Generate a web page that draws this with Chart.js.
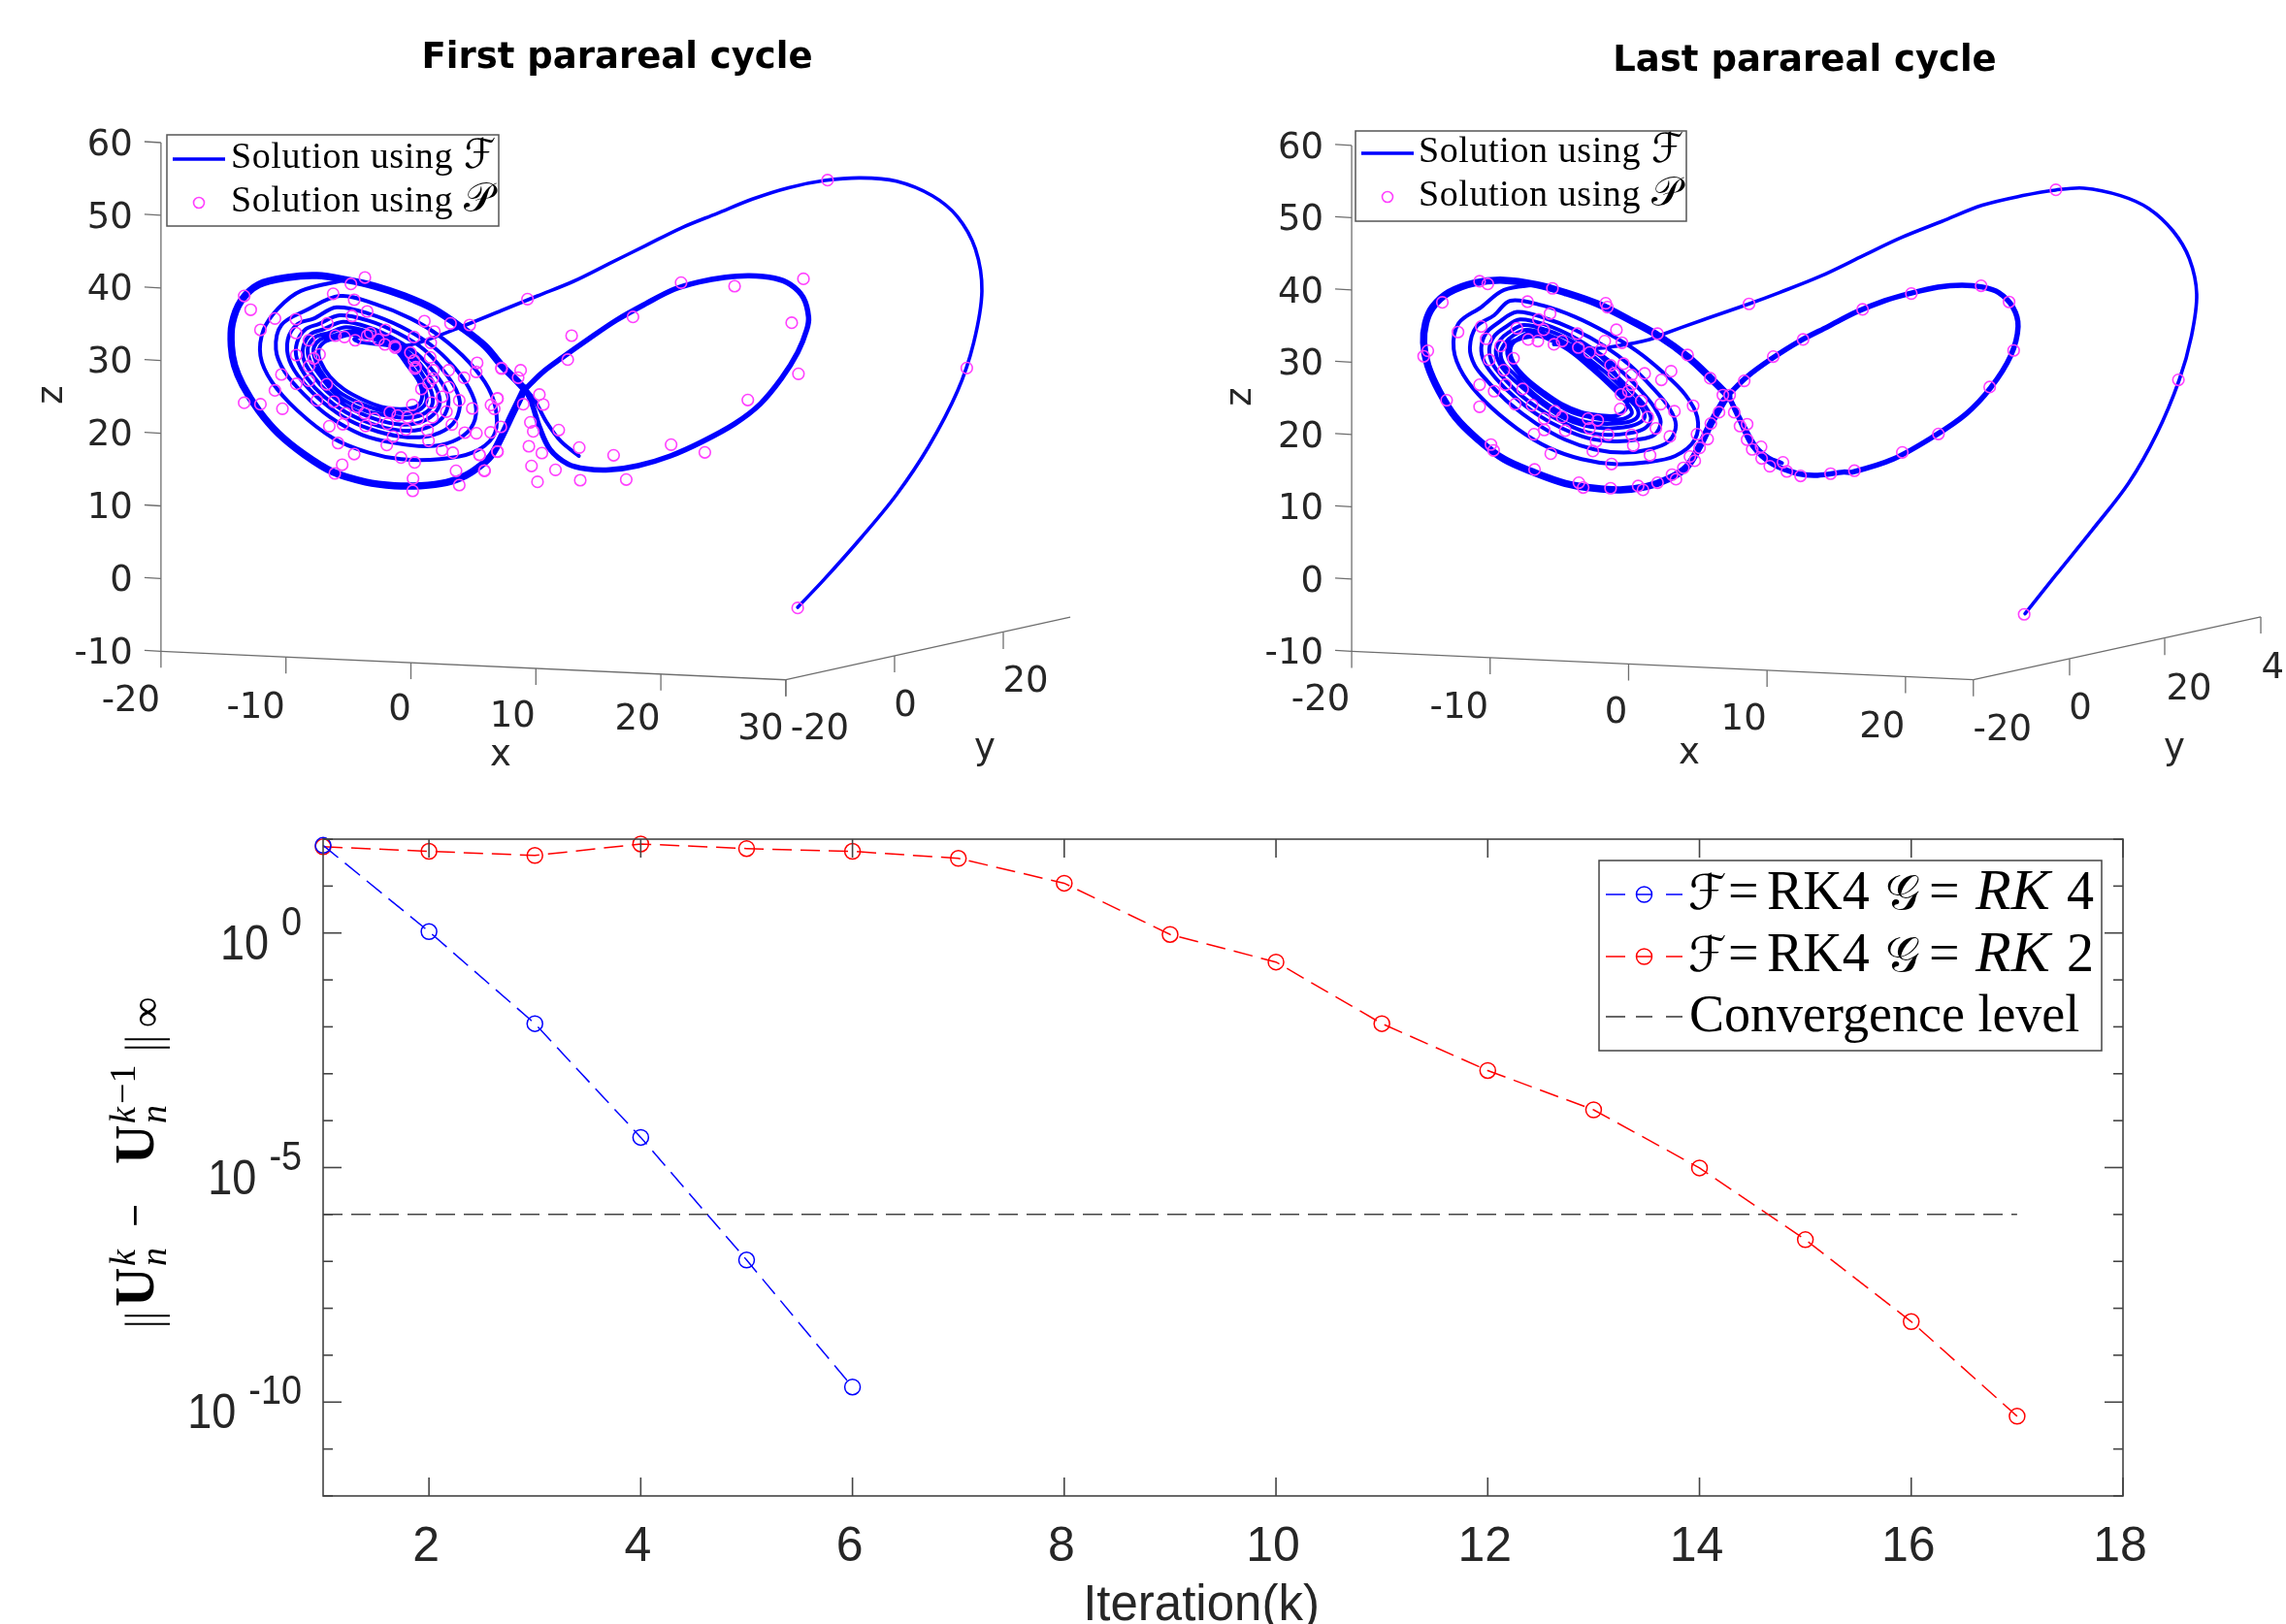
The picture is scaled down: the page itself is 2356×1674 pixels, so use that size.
<!DOCTYPE html>
<html><head><meta charset="utf-8">
<style>html,body{margin:0;padding:0;background:#fff;width:2356px;height:1674px;overflow:hidden}
canvas{position:absolute;display:block}</style>
<script src="https://cdn.jsdelivr.net/npm/chart.js@4"></script>
</head><body>
<canvas id="first" style="left:0;top:0" width="1178" height="830"></canvas>
<canvas id="last" style="left:1178px;top:0" width="1178" height="830"></canvas>
<canvas id="conv" style="left:0;top:800px" width="2356" height="874"></canvas>
<script>
// ---------- tick labels / categories ----------
const zTicks=[-10,0,10,20,30,40,50,60];
const firstXTicks=[-20,-10,0,10,20,30];
const lastXTicks=[-20,-10,0,10,20];
const firstYTickLabels=['-20','0','20'];
const lastYTickLabels=['-20','0','20','40'];
// ---------- First cycle: projected horizontal coordinate, z ----------
const firstArc=[[30.95,-3.95],[33.11,-0.03],[35.98,5.53],[38.85,11.54],[41.44,18.21],[43.73,25.78],[45.03,32.45],[45.69,39.57],[45.17,45.36],[43.73,49.81],[41.72,52.7],[38.85,54.7],[35.98,55.15],[33.11,54.79],[30.24,53.81],[27.37,52.26],[24.49,50.25],[21.62,48.25],[18.75,45.8],[15.88,43.36],[13.01,40.91],[10.13,38.91],[7.26,36.9],[4.39,34.9],[0.77,32.54],[-0.79,32.0],[-2.6,32.23],[-4.15,32.54]];
const firstSpiral=[[-4.15,32.54],[-4.54,32.98],[-4.15,33.25],[-2.86,32.9],[-1.3,31.56],[-0.27,29.33],[0.64,27.11],[0.9,25.11],[0.51,23.77],[-0.79,23.33],[-2.34,23.64],[-3.89,24.66],[-5.32,26.0],[-6.48,27.78],[-7.21,29.78],[-7.39,31.34],[-7.0,32.45],[-5.96,33.12],
[-4.67,33.56],[-2.99,32.98],[-1.3,31.56],[-0.14,29.56],[0.77,27.33],[1.23,25.33],[1.15,24.0],[0.38,23.0],[-0.79,22.75],[-2.34,23.1],[-3.89,24.0],[-5.44,25.33],[-6.48,26.89],[-7.26,28.67],[-7.72,30.45],[-7.77,31.78],[-7.26,32.9],[-6.35,33.34],
[-4.93,34.0],[-3.12,33.43],[-1.3,32.0],[0.12,30.0],[1.02,27.78],[1.67,25.55],[1.67,23.77],[0.9,22.57],[-0.4,22.13],[-1.95,22.44],[-3.63,23.1],[-5.32,24.53],[-6.48,26.22],[-7.39,28.22],[-8.08,30.0],[-8.24,31.78],[-7.65,33.25],[-6.61,33.78],
[-5.19,34.59],[-3.25,33.87],[-1.3,32.45],[0.25,30.45],[1.41,28.0],[2.19,25.55],[2.27,23.77],[1.54,22.21],[0.25,21.3],[-1.3,21.3],[-3.25,22.21],[-5.19,23.77],[-6.74,25.78],[-7.77,27.78],[-8.55,30.0],[-8.6,32.0],[-7.98,33.7],[-7.0,34.32],
[-5.45,35.34],[-3.37,34.59],[-1.3,32.98],[0.51,30.89],[1.93,28.22],[2.84,25.78],[2.97,23.77],[2.32,21.77],[0.77,20.52],[-1.05,20.43],[-3.12,21.3],[-5.19,22.88],[-7.0,25.11],[-8.29,27.55],[-9.12,30.22],[-9.12,32.45],[-8.42,34.32],[-7.39,35.03],
[-5.7,36.23],[-3.37,35.48],[-1.05,33.79],[1.02,31.56],[2.58,28.67],[3.61,26.0],[3.92,23.77],[3.35,21.3],[1.8,19.77],[-0.27,19.46],[-2.6,20.21],[-4.93,21.77],[-7.0,24.22],[-8.68,27.11],[-9.72,30.0],[-9.85,32.9],[-9.07,35.03],[-7.77,35.79],
[-5.96,37.34],[-3.37,36.46],[-0.79,34.67],[1.54,32.23],[3.35,29.33],[4.65,26.22],[5.22,23.33],[4.78,20.66],[3.35,18.88],[1.28,18.21],[-1.3,18.66],[-3.89,19.77],[-6.48,22.22],[-8.55,25.33],[-10.1,28.45],[-10.8,31.56],[-10.36,34.9],[-8.42,36.9],
[-5.7,38.9],[-2.86,37.79],[-0.01,35.79],[2.32,33.34],[4.65,29.78],[6.2,26.22],[6.85,22.66],[6.59,19.55],[4.91,17.32],[2.32,16.43],[-0.79,16.43],[-3.37,17.32],[-6.22,19.32],[-9.07,23.1],[-11.14,27.11],[-12.04,30.67],[-11.79,34.23],[-10.62,37.2],[-8.8,39.6],[-5.19,41.13]];
const firstOuter=[[9.13,26.22],[8.12,22.66],[7.26,19.55],[6.4,16.88],[5.4,15.32],[4.39,14.2],[2.84,13.23],[0.77,12.78],[-1.3,12.78],[-3.63,13.3],[-6.22,14.65],[-8.55,17.1],[-10.62,20.0],[-12.17,23.1],[-13.47,26.67],[-14.11,29.33],[-14.37,32.0],[-14.3,35.1],[-13.6,38.2],[-12.17,40.46],[-9.85,41.44],[-7.52,41.7],[-5.19,41.13],[-2.86,40.24],[-0.53,38.9],[1.8,37.12],[4.13,34.45],[5.94,32.0],[7.26,29.34],[8.41,27.33],[9.13,26.0]];
const firstLobe=[[9.13,26.22],[9.7,24.0],[10.28,20.88],[11.14,17.77],[12.57,15.76],[14.01,15.1],[15.88,14.96],[18.18,15.54],[20.76,16.88],[23.35,18.88],[25.93,21.33],[27.94,24.0],[29.66,27.56],[30.95,31.12],[31.67,34.23],[31.82,36.01],[31.39,38.68],[30.38,40.46],[29.09,41.35],[27.08,41.67],[25.07,41.44],[23.06,40.82],[21.05,39.8],[18.75,37.79],[16.45,35.57],[14.15,32.9],[12.14,30.45],[10.42,28.22],[9.13,26.0]];
const firstTail=[[7.26,29.1],[8.7,26.9],[9.85,24.67],[10.85,21.55],[12.0,18.88],[13.44,16.88]];
const firstPararealX=[-13.34,-12.82,-12.04,-10.88,-9.2,-9.2,-8.16,-6.22,-4.8,-3.68,-4.54,-3.5,-4.72,-6.69,-6.04,-5.32,-4.46,-3.5,-3.25,-2.6,-2.03,-2.08,-1.3,-1.25,0.25,1.08,1.88,3.17,4.7,1.59,-0.04,0.25,0.38,0.33,1.54,1.8,1.75,3.02,5.3,5.22,4.26,7.24,-9.17,-7.31,-7.77,-8.16,-10.36,-9.17,-10.88,-8.16,-6.74,-13.34,-12.04,-10.28,-7.52,-6.17,-5.24,-4.28,-3.71,-2.91,-1.69,-1.05,-0.27,0.12,0.84,1.41,1.67,2.5,3.02,3.87,4.91,2.84,1.72,0.58,-1.87,-3.63,-5.45,-6.53,-0.4,1.33,3.28,6.93,6.41,6.67,4.31,5.24,6.38,-5.83,-1.43,-1.93,1.41,2.5,3.35,5.5,6.93,-4.54,-0.79,0.3,-5.5,-6.09,0.17,0.14,3.87,3.61,5.89,33.34,44.48,30.95,9.33,21.62,25.9,31.41,17.77,30.47,12.86,12.55,31.01,26.96,7.26,8.78,8.58,10.28,10.59,8.99,6.92,9.56,9.79,11.83,9.44,10.48,13.47,16.22,20.82,23.52,9.65,11.57,13.55,10.13,17.23,6.92,5.48,5.88,7.2];
const firstPararealZ=[38.9,37.0,34.23,35.79,35.7,33.8,32.8,39.2,40.55,41.44,38.37,36.77,36.14,35.12,33.43,33.25,32.8,33.43,33.8,32.9,34.23,32.23,32.0,31.78,33.25,35.43,34.0,35.12,34.9,32.45,31.1,30.0,29.1,28.9,30.45,28.67,27.55,28.67,29.69,28.45,27.64,28.98,30.76,30.85,30.3,29.2,28.09,26.8,25.9,27.24,26.75,24.2,24.0,23.37,24.53,24.35,22.75,23.64,22.75,22.0,22.88,22.44,22.2,23.9,26.09,26.89,24.22,25.02,26.35,24.53,23.42,22.97,22.2,22.0,21.3,21.0,21.24,20.97,20.52,20.43,21.2,24.8,23.9,23.37,20.08,20.0,20.12,18.65,19.55,18.39,18.97,17.68,17.32,17.01,17.45,17.14,16.65,15.99,15.67,14.47,13.76,12.07,12.87,14.83,14.83,54.84,28.98,-4.04,38.46,40.73,40.24,41.26,36.01,35.21,33.43,30.14,28.18,24.58,28.89,28.67,27.65,25.33,23.95,24.0,24.75,21.5,20.26,20.44,18.21,17.28,18.03,16.97,18.43,17.37,15.5,14.96,13.54,13.32,13.63,17.5,17.05,14.87,20.88];
// ---------- Last cycle ----------
const lastArc=[[28.63,-4.78],[30.83,0.5],[33.47,6.76],[36.1,13.25],[38.16,20.18],[39.77,27.57],[40.65,33.61],[41.03,39.42],[40.5,44.34],[39.33,48.15],[37.57,51.28],[35.52,53.07],[32.88,54.1],[30.83,53.83],[28.48,53.07],[25.55,51.73],[22.62,49.49],[19.69,47.25],[16.75,44.57],[13.82,41.88],[10.89,39.65],[8.69,38.08],[5.32,35.84],[2.39,33.83],[1.51,33.16],[-0.83,32.26],[-2.47,31.91],[-4.1,32.35],[-5.39,32.49]];
const lastSpiral=[[-5.39,32.49],[-5.04,32.94],[-3.87,32.17],[-2.23,31.15],[-1.06,28.69],[-0.25,26.0],[-0.13,23.76],[-0.83,22.65],[-2.0,22.65],[-3.4,23.09],[-4.8,24.21],[-6.2,26.0],[-7.37,27.79],[-8.19,29.58],[-8.54,31.37],[-8.31,32.71],[-7.6,33.38],[-6.44,33.61],
[-5.5,32.94],[-4.1,31.37],[-2.7,29.13],[-1.53,27.12],[-0.48,25.11],[0.1,23.76],[0.22,22.87],[-0.36,22.2],[-1.53,22.06],[-2.82,22.42],[-4.1,23.09],[-5.39,24.44],[-6.55,26.0],[-7.49,27.57],[-8.19,29.13],[-8.66,30.47],[-8.77,31.82],[-8.54,32.71],[-8.07,33.16],
[-7.14,34.05],[-5.74,33.38],[-4.22,31.91],[-2.7,29.58],[-1.41,27.34],[-0.13,25.11],[0.57,23.76],[0.69,22.65],[0.22,21.88],[-0.83,21.53],[-2.23,21.53],[-3.52,21.97],[-4.92,23.09],[-6.2,24.66],[-7.37,26.54],[-8.31,28.46],[-9.01,29.8],[-9.24,31.37],[-8.89,32.71],[-8.31,33.74],
[-7.37,34.5],[-5.85,33.83],[-4.22,32.35],[-2.58,30.03],[-1.18,27.79],[0.1,25.33],[0.92,23.76],[1.16,22.42],[0.69,21.53],[-0.36,20.99],[-1.76,20.86],[-3.28,21.3],[-4.8,22.42],[-6.2,24.21],[-7.49,26.22],[-8.66,28.24],[-9.31,29.8],[-9.59,31.59],[-9.24,33.16],[-8.66,34.14],
[-7.6,35.17],[-5.97,34.5],[-4.1,32.94],[-2.47,30.7],[-0.95,28.24],[0.45,25.55],[1.27,23.76],[1.62,22.2],[1.16,20.86],[-0.01,20.18],[-1.53,19.96],[-3.17,20.41],[-4.8,21.75],[-6.44,23.54],[-7.84,25.55],[-9.12,28.01],[-9.82,29.8],[-10.06,31.82],[-9.71,33.61],[-9.01,34.72],
[-7.84,35.93],[-5.97,35.17],[-4.1,33.61],[-2.23,31.37],[-0.6,28.91],[0.92,26.0],[1.86,23.76],[2.32,21.75],[1.86,19.96],[0.57,19.29],[-1.06,19.07],[-2.93,19.51],[-4.8,20.86],[-6.67,22.87],[-8.31,25.33],[-9.59,27.79],[-10.41,30.03],[-10.64,32.04],[-10.29,34.05],[-9.47,35.4],
[-8.07,36.96],[-5.97,36.07],[-3.87,34.5],[-1.76,32.26],[0.1,29.58],[1.74,26.45],[2.91,23.76],[3.42,21.3],[2.91,19.07],[1.51,17.95],[-0.36,17.5],[-2.47,17.95],[-4.57,19.29],[-6.67,21.53],[-8.54,24.21],[-10.17,27.34],[-11.11,29.58],[-11.46,32.04],[-10.99,34.95],[-9.71,36.51],
[-8.54,38.53],[-6.2,37.86],[-3.87,36.29],[-1.53,34.05],[0.57,31.59],[2.44,28.69],[4.08,25.55],[4.96,22.42],[4.78,19.29],[3.37,17.05],[1.27,16.16],[-1.06,15.94],[-3.4,16.61],[-5.74,18.17],[-8.07,20.86],[-10.41,24.66],[-11.93,28.24],[-12.63,31.82],[-12.28,35.4],[-10.64,37.63],[-9.0,40.0],[-6.67,40.76]];
const lastOuter=[[7.08,25.1],[6.88,24.66],[5.94,21.53],[5.13,18.39],[4.19,15.49],[2.91,13.92],[1.27,12.8],[-0.6,12.36],[-2.47,12.58],[-4.57,13.25],[-6.9,14.82],[-9.0,16.6],[-10.87,19.29],[-12.51,22.42],[-13.68,26.0],[-14.5,29.58],[-14.8,32.71],[-14.66,35.4],[-14.15,37.63],[-12.98,39.65],[-11.11,40.99],[-9.0,41.35],[-6.67,40.76],[-4.57,39.65],[-2.23,38.08],[0.1,35.84],[2.21,33.61],[4.31,30.7],[5.94,27.79],[7.23,25.33]];
const lastLobe=[[7.23,25.33],[8.05,21.97],[8.98,18.39],[10.38,15.94],[12.25,14.59],[13.65,14.37],[15.52,14.81],[16.17,14.81],[19.1,16.6],[22.03,19.74],[24.38,22.87],[26.14,26.45],[27.6,30.92],[28.13,34.95],[27.75,37.63],[26.72,39.65],[25.55,40.41],[24.08,40.68],[22.33,40.41],[20.27,39.51],[18.51,38.53],[16.46,36.96],[14.41,34.95],[12.36,32.94],[10.3,30.47],[8.55,28.01],[7.23,25.55]];
const lastTail=[[6.18,27.34],[7.23,25.11],[8.28,21.52],[9.21,18.39],[10.15,16.83],[11.08,16.07]];
const lastPararealX=[-10.76,-10.17,-5.5,-1.65,-1.53,-13.45,-7.3,-5.67,-6.51,-12.32,-10.64,-10.29,-8.07,-6.13,-3.7,-0.88,2.09,-0.48,-1.72,-9.24,-7.25,-6.55,-5.39,-4.8,-3.63,-2.82,-2.0,-14.5,-14.8,-8.31,-10.06,-9.01,-1.3,-1.06,-0.36,4.26,1.16,3.07,2.37,0.22,0.22,5.9,8.35,6.81,7.3,-10.76,-9.71,-8.89,-7.65,-6.97,-8.19,-13.14,-10.76,-0.55,-0.01,0.92,-0.6,2.32,4.66,3.31,6.53,7.63,-5.32,-6.09,-4.8,-2.93,-2.23,1.39,5.94,8.56,8.05,-6.09,-4.57,1.97,-2.82,0.22,-1.48,-6.83,4.94,2.98,5.71,-2.35,0.34,5.13,8.56,-2.58,-9.94,-9.75,-5.62,1.55,9.57,8.93,4.43,4.78,-1.23,3.96,9.61,10.2,11.15,11.43,12.42,14.59,-6.79,3.14,3.42,2.09,0.69,1.04,-1.3,-3.59,-3.28,10.45,12.6,8.7,30.86,39.71,28.57,16.9,20.42,25.46,27.48,27.81,26.08,22.38,19.77,16.31];
const lastPararealZ=[41.21,40.85,40.23,38.17,37.63,38.3,38.39,36.74,35.93,34.19,34.95,33.25,34.72,34.5,33.96,34.5,33.96,32.71,32.94,32.26,33.16,32.94,32.49,32.94,32.04,31.37,31.73,31.59,30.83,30.56,30.34,28.91,29.58,28.46,29.8,31.01,28.46,28.77,27.57,28.24,26.9,27.79,27.43,25.46,25.46,26.9,26.0,26.9,26.31,24.08,24.21,24.75,23.85,25.55,26.0,24.66,23.54,24.21,23.99,23.23,23.09,23.09,23.23,22.2,22.42,22.2,21.97,22.42,21.53,21.44,21.17,20.63,20.54,20.86,20.86,19.96,19.96,20.05,20.05,19.74,19.38,19.07,18.48,18.17,19.29,17.72,18.62,17.81,17.36,17.14,18.31,17.95,16.96,16.38,15.93,15.4,16.7,15.62,16.16,14.9,14.28,14.59,15.17,14.46,13.83,13.34,12.89,12.36,12.58,13.34,12.67,30.79,33.16,38.08,53.87,27.57,-4.87,37.32,39.51,40.59,38.35,31.64,26.58,20.09,17.54,15.0];
// ---------- Convergence ----------
const iterations=[1,2,3,4,5,6,7,8,9,10,11,12,13,14,15,16,17];
const rk4Errors=[74,1.07,0.0117,4.4e-5,1.07e-7,2.1e-10];
const rk2Errors=[69,55,45,79,63,55,39,11.5,0.93,0.24,0.0117,1.17e-3,1.7e-4,9.8e-6,2.9e-7,5.2e-9,5e-11];
const convergenceLevel=1e-6;
const convXTicks=[2,4,6,8,10,12,14,16,18];
const convYTicks=[-12,-11,-10,-9,-8,-7,-6,-5,-4,-3,-2,-1,0,1,2];
const convYLabels=[0,-5,-10];

const BLUE='#0000ff',MAG='#ff40ff',AX='#6e6e6e',TXT='#262626';
const SANS='"DejaVu Sans"',SERIF='"Liberation Serif"',HELV='"Liberation Sans"',SCRIPT='"DejaVu Sans","Noto Sans"';
const pts=a=>a.map(p=>({x:p[0],y:p[1]}));
function panelPlugin(o){return {id:'panel'+o.id,afterDatasetsDraw(c){
  const ctx=c.ctx,X=c.scales.x,Y=c.scales.y,px=v=>X.getPixelForValue(v),py=v=>Y.getPixelForValue(v);
  ctx.save();ctx.strokeStyle=AX;ctx.lineWidth=1.3;ctx.fillStyle=TXT;
  const line=(a,b,d,e)=>{ctx.beginPath();ctx.moveTo(a,b);ctx.lineTo(d,e);ctx.stroke();};
  // z axis
  line(px(-20),py(60),px(-20),py(-10));
  ctx.font='37px '+SANS;ctx.textAlign='right';ctx.textBaseline='middle';
  zTicks.forEach(z=>{line(px(-20),py(z),px(-20)-17,py(z)-1);ctx.fillText(String(z),px(-20)-29,py(z)+3);});
  // x axis
  line(px(-20),py(-10),px(o.xEnd[0]),py(o.xEnd[1]));
  ctx.textAlign='center';
  o.xTicks.forEach((t,i)=>{const z=o.xZ[i];line(px(t),py(z),px(t),py(z)+17);ctx.fillText(String(t),px(t)+o.xLabDx[i],py(z)+o.xLabDy[i]+3);});
  // y axis
  line(px(o.xEnd[0]),py(o.xEnd[1]),px(o.yEnd[0]),py(o.yEnd[1]));
  o.yLabels.forEach((t,i)=>{const p=o.yPos[i];line(px(p[0]),py(p[1]),px(p[0]),py(p[1])+17);ctx.fillText(t,px(p[0])+o.yLabDx[i],py(p[1])+o.yLabDy[i]+4);});
  // axis names
  ctx.fillText('x',o.xName[0],o.xName[1]);ctx.fillText('y',o.yName[0],o.yName[1]);
  ctx.save();ctx.translate(o.zName[0],o.zName[1]);ctx.rotate(-Math.PI/2);ctx.fillText('z',0,0);ctx.restore();
  // title
  ctx.fillStyle='#000';ctx.font='bold 37px '+SANS;ctx.fillText(o.title,o.titlePos[0],o.titlePos[1]);
  // legend
  const L=o.leg;ctx.fillStyle='#fff';ctx.fillRect(L.x,L.y,L.w,L.h);ctx.strokeStyle='#555';ctx.lineWidth=1.5;ctx.strokeRect(L.x,L.y,L.w,L.h);
  ctx.strokeStyle=BLUE;ctx.lineWidth=3.5;line(L.hx,L.y1,L.hx+54,L.y1);
  ctx.strokeStyle=MAG;ctx.lineWidth=1.6;ctx.beginPath();ctx.arc(L.mx,L.y2,5.5,0,7);ctx.stroke();
  ctx.fillStyle='#000';ctx.textAlign='left';ctx.textBaseline='alphabetic';
  ctx.font='38px '+SERIF;ctx.letterSpacing='0.6px';
  ctx.fillText('Solution using',L.tx,L.y1+8.5);ctx.fillText('Solution using',L.tx,L.y2+8.5);
  ctx.letterSpacing='0px';ctx.font='42px '+SCRIPT;
  ctx.fillText('ℱ',L.tx+240,L.y1+8.5);ctx.fillText('𝒫',L.tx+240,L.y2+8.5);
  ctx.restore();
}};}
function panel(id,o,left,right,bottom,top,arc,spiral,outer,lobe,tail,sx,sz){
  const ln=(label,data,w)=>({type:'line',label,data:pts(data),borderColor:BLUE,borderWidth:w,pointRadius:0,tension:0.34,fill:false,order:2,borderJoinStyle:'round',borderCapStyle:'round'});
  new Chart(document.getElementById(id),{type:'scatter',
    data:{datasets:[
      {type:'scatter',label:'Solution using P',data:sx.map((v,i)=>({x:v,y:sz[i]})),showLine:false,pointStyle:'circle',pointRadius:5.8,pointBackgroundColor:'rgba(0,0,0,0)',pointBorderColor:MAG,pointBorderWidth:1.6,order:1},
      ln('Solution using F',arc,3.6),ln('Solution using F (spiral)',spiral,4),ln('Solution using F (outer)',outer,7.5),ln('Solution using F (lobe)',lobe,5.5),ln('Solution using F (tail)',tail,4)]},
    options:{responsive:false,animation:false,events:[],layout:{padding:0,autoPadding:false},
      scales:{x:{type:'linear',display:false,min:left,max:right},y:{type:'linear',display:false,min:bottom,max:top}},
      plugins:{legend:{display:false},tooltip:{enabled:false}}},
    plugins:[panelPlugin(o)]});
}
panel('first',{id:'F',title:'First parareal cycle',titlePos:[636,60],
  xTicks:firstXTicks,xZ:[-10,-10.79,-11.57,-12.36,-13.14,-13.93],xEnd:[30,-13.93],yEnd:[52.76,-5.29],
  xLabDx:[-31,-31,-11.5,-24,-24,-26],xLabDy:[49,50,46,47,45,49],
  yLabels:firstYTickLabels,yPos:[[30,-13.93],[38.7,-10.63],[47.4,-7.42]],yLabDx:[35,11,23],yLabDy:[48,48,47],
  xName:[516,779],yName:[1015,772],zName:[54,407],
  leg:{x:172,y:139,w:342,h:94,hx:178,y1:164,mx:205,y2:209,tx:238}},
  -32.88,58.58,-31.19,79.63,firstArc,firstSpiral,firstOuter,firstLobe,firstTail,firstPararealX,firstPararealZ);
panel('last',{id:'L',title:'Last parareal cycle',titlePos:[682,63],
  xTicks:lastXTicks,xZ:[-10,-10.87,-11.75,-12.62,-13.49],xEnd:[24.9,-13.92],yEnd:[45.66,-5.23],
  xLabDx:[-32,-32,-13,-24,-24],xLabDy:[48,49,48,48,50],
  yLabels:lastYTickLabels,yPos:[[24.9,-13.92],[31.85,-11.05],[38.72,-8.23],[45.66,-5.23]],yLabDx:[30,11,25,24],yLabDy:[49,48,49,49],
  xName:[563,777],yName:[1063,772],zName:[101,409],
  leg:{x:219,y:135,w:341,h:93,hx:225,y1:158,mx:252,y2:203,tx:284}},
  -35.07,47.48,-31.28,80.13,lastArc,lastSpiral,lastOuter,lastLobe,lastTail,lastPararealX,lastPararealZ);

// ---------- bottom chart ----------
const convPlugin={id:'convDecor',afterDatasetsDraw(c){
  const ctx=c.ctx,X=c.scales.x,Y=c.scales.y,a=c.chartArea;
  ctx.save();ctx.strokeStyle='#444';ctx.lineWidth=1.6;
  const line=(p,q,r,s)=>{ctx.beginPath();ctx.moveTo(p,q);ctx.lineTo(r,s);ctx.stroke();};
  ctx.strokeRect(a.left,a.top,a.right-a.left,a.bottom-a.top);
  convXTicks.forEach(t=>{const x=X.getPixelForValue(t);line(x,a.bottom,x,a.bottom-19);line(x,a.top,x,a.top+19);});
  convYTicks.forEach(t=>{const y=Y.getPixelForValue(Math.pow(10,t)),l=t%5===0?19:10;line(a.left,y,a.left+l,y);line(a.right,y,a.right-l,y);});
  // decade labels
  ctx.fillStyle=TXT;ctx.textBaseline='alphabetic';ctx.textAlign='right';
  convYLabels.forEach(t=>{const y=Y.getPixelForValue(Math.pow(10,t));
    ctx.font='42px '+HELV;const e=String(t),w=ctx.measureText(e).width*0.9;ctx.fillText(e,311,y+2,w);
    ctx.font='50px '+HELV;const w2=ctx.measureText('10').width*0.9;ctx.fillText('10',311-w-13,y+27,w2);});
  // x title
  ctx.textAlign='center';ctx.textBaseline='middle';ctx.font='51px '+HELV;ctx.fillText('Iteration(k)',1238,856);
  // y label
  ctx.fillStyle='#000';ctx.textAlign='left';ctx.textBaseline='alphabetic';ctx.translate(158,569);ctx.rotate(-Math.PI/2);
  const m='56px '+SERIF,b='bold 56px '+SERIF,s='italic 38px '+SERIF,u='38px '+SERIF,v='50px '+SERIF;
  [['||',v,0,6,17],['U',b,22,0],['k',s,64,-19],['n',s,64,13],['−',m,104,0,24],['U',b,169,0],['k',s,211,-19],['−1',u,231,-19,42],['n',s,211,13],['||',v,285,6,17],['∞','44px '+SERIF,310,7]]
    .forEach(r=>{ctx.font=r[1];if(r[4])ctx.fillText(r[0],r[2],r[3],r[4]);else ctx.fillText(r[0],r[2],r[3]);});
  ctx.setTransform(1,0,0,1,0,0);
  // legend
  const top=87,L=1648,R=2166,H=196;
  ctx.fillStyle='#fff';ctx.fillRect(L,top,R-L,H);ctx.strokeStyle='#444';ctx.lineWidth=1.5;ctx.strokeRect(L,top,R-L,H);
  const rows=[[122,'#0000ff',true],[186,'#ff0000',true],[248,'#333',false]];
  const sym='50px '+SCRIPT,t='56px '+SERIF,it='italic 60px '+SERIF;
  rows.forEach((r,i)=>{ctx.strokeStyle=r[1];ctx.lineWidth=1.5;
    [[1655,1675],[1686,1703],[1717,1734]].forEach(g=>line(g[0],r[0],g[1],r[0]));
    if(r[2]){ctx.beginPath();ctx.arc(1694.5,r[0],8,0,7);ctx.stroke();}
    ctx.fillStyle='#000';ctx.textAlign='left';
    const y=r[0]+14.5;
    if(i===2){ctx.font='54px '+SERIF;ctx.fillText(c.data.datasets[2].label,1741,y);}
    else [['ℱ',sym,1740],['=',t,1781,37],['RK4',t,1821],['𝒢',sym,1943],['=',t,1988,34],['RK',it,2036],[i===0?'4':'2',t,2130]]
      .forEach(p=>{ctx.font=p[1];if(p[3])ctx.fillText(p[0],p[2],y,p[3]);else ctx.fillText(p[0],p[2],y);});
  });
  ctx.restore();
}};
const dashed=(label,data,color,r)=>({label,data,borderColor:color,borderWidth:1.5,borderDash:[20,9],pointRadius:r,pointStyle:'circle',pointBackgroundColor:'rgba(0,0,0,0)',pointBorderColor:color,pointBorderWidth:1.5,tension:0,fill:false,clip:false,spanGaps:false});
new Chart(document.getElementById('conv'),{type:'line',
  data:{datasets:[
    dashed('F=RK4 G=RK4',rk4Errors.map((v,i)=>({x:iterations[i],y:v})),'#0000ff',8),
    dashed('F=RK4 G=RK2',rk2Errors.map((v,i)=>({x:iterations[i],y:v})),'#ff0000',8),
    dashed('Convergence level',iterations.map(k=>({x:k,y:convergenceLevel})),'#444444',0)]},
  options:{responsive:false,animation:false,events:[],layout:{autoPadding:false,padding:{top:65,right:168,left:0,bottom:0}},
    scales:{
      x:{type:'linear',min:1,max:18,grid:{display:false,drawTicks:false},border:{display:false},
        afterBuildTicks:s=>{s.ticks=convXTicks.map(v=>({value:v}));},
        afterFit:s=>{s.height=132;},
        ticks:{color:TXT,font:{family:'Liberation Sans',size:50},padding:23,labelOffset:-3,maxRotation:0,autoSkip:false}},
      y:{type:'logarithmic',min:1e-12,max:1e2,grid:{display:false,drawTicks:false},border:{display:false},
        afterFit:s=>{s.width=333;},ticks:{display:false}}},
    plugins:{legend:{display:false},tooltip:{enabled:false}}},
  plugins:[convPlugin]});
</script>
</body></html>
